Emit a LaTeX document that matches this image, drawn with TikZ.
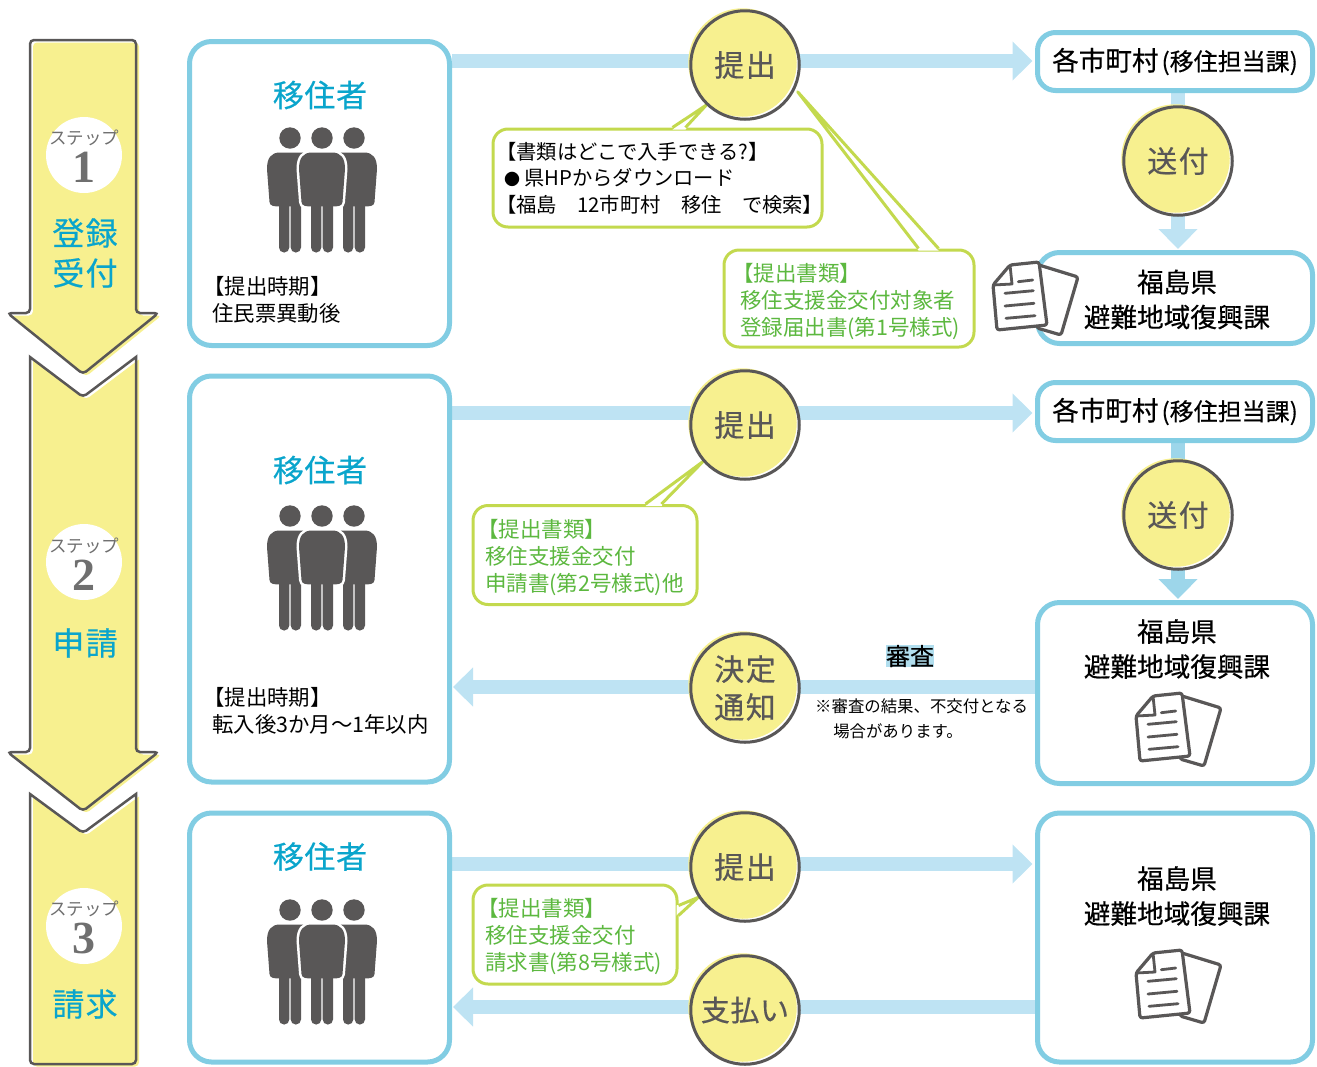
\documentclass[tikz,border=0pt]{standalone}
\usepackage{fontspec}
\setmainfont{Noto Sans CJK JP}
\newfontfamily\midfont[FakeBold=0.4]{Noto Sans CJK JP}
\newfontfamily\numfont{Liberation Serif}
\usetikzlibrary{calc}
\usetikzlibrary{shadows}
\usetikzlibrary{arrows.meta}
\usetikzlibrary{backgrounds}
\definecolor{boxblue}{HTML}{82CDE3}
\definecolor{bandblue}{HTML}{BEE3F3}
\definecolor{banddark}{HTML}{9DD6EA}
\definecolor{stepyellow}{HTML}{F7F08F}
\definecolor{inkgray}{HTML}{595757}
\definecolor{softgray}{HTML}{6F6F6F}
\definecolor{headblue}{HTML}{0AA5CC}
\definecolor{notegreen}{HTML}{C3D94E}
\definecolor{notetext}{HTML}{5CB83F}
\newcommand{\openmark}{\kern-8pt【}
\tikzset{
  stepshape/.style={draw=inkgray, line width=2.5pt, preaction={fill=stepyellow, transform canvas={shift={(3pt,-2.5pt)}}}},
  badge/.style={fill=white, circle, minimum size=76pt, inner sep=0pt},
  stepword/.style={text=softgray, font=\fontsize{17.5}{20}\selectfont},
  stepnum/.style={text=softgray, font=\numfont\bfseries\fontsize{46}{46}\selectfont},
  stepname/.style={text=headblue, align=center, font=\midfont\fontsize{32}{40}\selectfont\addfontfeature{LetterSpace=4}},
  bluebox/.style={draw=boxblue, fill=white, line width=5pt, rounded corners=22pt, inner sep=0pt},
  heading/.style={text=headblue, font=\midfont\fontsize{31}{36}\selectfont\addfontfeature{LetterSpace=2}},
  when/.style={anchor=west, align=left, inner sep=0pt, font=\fontsize{21.4}{27}\selectfont},
  office/.style={align=center, font=\midfont\fontsize{26.6}{35}\selectfont},
  band/.style={draw=bandblue, line width=14pt, -{Triangle[length=20pt,width=38pt]}, shorten >=5pt},
  act/.style={circle, draw=inkgray, line width=3pt, minimum size=108.5pt, inner sep=0pt, text=inkgray, align=center,
    font=\midfont\fontsize{30}{38}\selectfont\addfontfeature{LetterSpace=5},
    general shadow={shadow xshift=0pt, shadow yshift=0pt, fill=white, opacity=1},
    general shadow={shadow xshift=-2.5pt, shadow yshift=2.5pt, fill=stepyellow, opacity=1}},
  notebox/.style={draw=notegreen, fill=white, line width=3pt, rounded corners=15pt, inner sep=0pt},
  noteword/.style={anchor=west, align=left, inner sep=0pt, text=notetext, font=\fontsize{21.5}{27}\selectfont},
  notetail/.style={draw=notegreen, line width=3pt, line join=round},
  pics/people/.style={code={
    \foreach \px in {-32,32} {
      \fill[inkgray] (\px,0) circle (10.7pt);
      \fill[inkgray, rounded corners=5pt] (\px-11,60) rectangle (\px-.7,114.5);
      \fill[inkgray, rounded corners=5pt] (\px+.7,60) rectangle (\px+11,114.5);
      \fill[inkgray, shift={(\px,0)}] (-10,14.5) .. controls (-19,14.5) and (-23,20) .. (-23,31) -- (-20.5,64) .. controls (-20.3,68.4) and (-15,68.4) .. (-11,68.4) -- (11,68.4) .. controls (15,68.4) and (20.3,68.4) .. (20.5,64) -- (23,31) .. controls (23,20) and (19,14.5) .. (10,14.5) -- cycle;
    }
    \fill[inkgray] (0,0) circle (10.7pt);
    \fill[inkgray, preaction={draw=white, line width=5pt}] (-10,14.5) .. controls (-19,14.5) and (-23,20) .. (-23,31) -- (-20.5,64) .. controls (-20.3,68.4) and (-15,68.4) .. (-11,68.4) -- (11,68.4) .. controls (15,68.4) and (20.3,68.4) .. (20.5,64) -- (23,31) .. controls (23,20) and (19,14.5) .. (10,14.5) -- cycle;
    \fill[inkgray, rounded corners=5pt] (-11,60) rectangle (-.7,114.5);
    \fill[inkgray, rounded corners=5pt] (.7,60) rectangle (11,114.5);
  }},
  pics/papers/.style={code={
    \draw[fill=white, draw=inkgray, line width=3.2pt, line join=round, rounded corners=2.5pt] (47,3) -- (86,15) -- (69,73) -- (45,66) -- cycle;
    \draw[fill=white, draw=inkgray, line width=3.2pt, line join=round, rounded corners=2.5pt] (18,3) -- (47,0) -- (55,63) -- (5,68) -- (1,23) -- cycle;
    \draw[draw=inkgray, line width=2.8pt, line join=round] (18,3) -- (20,22) -- (1,23);
    \draw[draw=inkgray, line width=2.8pt, line cap=round] (26.3,19.7) -- (40.7,18);
    \draw[draw=inkgray, line width=2.8pt, line cap=round] (13,31.3) -- (41.3,28.7);
    \draw[draw=inkgray, line width=2.8pt, line cap=round] (13,44) -- (42,41.3);
    \draw[draw=inkgray, line width=2.8pt, line cap=round] (14,56.3) -- (43,53.7);
  }}
}
\begin{document}
\begin{tikzpicture}[x=1pt, y=-1pt]
\useasboundingbox (0,0) rectangle (1317,1066);

\path[stepshape, rounded corners=4pt] (30,40) -- (136,40) -- (136,313) -- (158.5,313) -- (83,374) -- (7.5,313) -- (30,313) -- cycle;
\path[stepshape] (30,357) [rounded corners=4pt] -- (83,397) [sharp corners] -- (136,357) [rounded corners=4pt] -- (136,752) -- (158.5,752) -- (83,811) -- (7.5,752) -- (30,752) [sharp corners] -- cycle;
\path[stepshape] (30,794) [rounded corners=4pt] -- (83,833) [sharp corners] -- (136,794) [rounded corners=4pt] -- (136,1064) -- (30,1064) [sharp corners] -- cycle;

\node[badge] (badge1) at (84,155) {};
\node[stepword] (word1) at (84,138) {ステップ};
\node[stepnum] (num1) at (84,167) {1};
\node[stepname] (name1) at (85,253) {登録\\受付};
\node[badge] (badge2) at (84,562) {};
\node[stepword] (word2) at (84,546) {ステップ};
\node[stepnum] (num2) at (84,575) {2};
\node[stepname] (name2) at (85,643) {申請};
\node[badge] (badge3) at (84,926) {};
\node[stepword] (word3) at (84,909) {ステップ};
\node[stepnum] (num3) at (84,938) {3};
\node[stepname] (name3) at (85,1004) {請求};

\node[bluebox, minimum width=260pt, minimum height=304pt] (mover1) at (319.5,193.5) {};
\node[bluebox, minimum width=260pt, minimum height=406pt] (mover2) at (319.5,579) {};
\node[bluebox, minimum width=260pt, minimum height=249pt] (mover3) at (319.5,937.5) {};
\node[bluebox, rounded corners=18pt, minimum width=275pt, minimum height=58pt, office] (city1) at (1175,61.5) {各市町村\kern3pt{\fontsize{24}{30}\selectfont(移住担当課)}};
\node[bluebox, rounded corners=18pt, minimum width=275pt, minimum height=58pt, office] (city2) at (1175,411.5) {各市町村\kern3pt{\fontsize{24}{30}\selectfont(移住担当課)}};
\node[bluebox, minimum width=275pt, minimum height=91pt] (pref1) at (1175,298) {};
\node[bluebox, minimum width=275pt, minimum height=181pt] (pref2) at (1175,693) {};
\node[bluebox, minimum width=275pt, minimum height=249pt] (pref3) at (1175,937.5) {};

\node[heading] (title1) at (320,95) {移住者};
\node[heading] (title2) at (320,470) {移住者};
\node[heading] (title3) at (320,856.5) {移住者};
\pic (crowd1) at (322,138) {people};
\pic (crowd2) at (322,516) {people};
\pic (crowd3) at (322,910) {people};
\node[when] (when1) at (212,300) {\kern-9pt【提出時期】\\住民票異動後};
\node[when] (when2) at (212,711) {\kern-9pt【提出時期】\\転入後3か月～1年以内};
\node[office] (office1) at (1177,299.5) {福島県\\避難地域復興課};
\node[office] (office2) at (1177,649) {福島県\\避難地域復興課};
\node[office] (office3) at (1177,896) {福島県\\避難地域復興課};
\pic (sheet1) at (992,262) {papers};
\pic (sheet2) at (1135,693) {papers};
\pic (sheet3) at (1135,950) {papers};

\node[fill=banddark!80, inner sep=0pt, font=\midfont\fontsize{24}{28}\selectfont] (review) at (910,656) {審査};
\node[anchor=west, align=left, inner sep=0pt, font=\fontsize{16.4}{24.5}\selectfont] (caution) at (815,719) {※審査の結果、不交付となる\\\hspace*{1.1em}場合があります。};

\node[act] (submit1) at (745,65) {提出};
\node[act] (send1) at (1178,161) {送付};
\node[act] (submit2) at (745,425) {提出};
\node[act] (send2) at (1178,515) {送付};
\node[act] (notify) at (745,688) {決定\\通知};
\node[act] (submit3) at (745,867) {提出};
\node[act, font=\midfont\fontsize{29}{38}\selectfont\addfontfeature{LetterSpace=2}] (pay) at (745,1010) {支払い};

\coordinate (in1) at (1037.5,61);
\coordinate (in2) at (1037.5,413);
\coordinate (in3) at (1037.5,864);
\coordinate (back2) at (1037.5,687);
\coordinate (back3) at (1037.5,1007);

\begin{pgfonlayer}{background}
\draw[band] (mover1.east |- in1) -- (in1);
\draw[band] (mover2.east |- in2) -- (in2);
\draw[band] (mover3.east |- in3) -- (in3);
\draw[band, shorten >=1pt] (back2) -- (mover2.east |- back2);
\draw[band, shorten >=1pt] (back3) -- (mover3.east |- back3);
\draw[band, shorten >=1pt] (send1.north |- city1.south) -- (send1.north |- pref1.north);
\draw[band, draw=banddark, shorten >=1pt] (send2.north |- city2.south) -- (send2.north |- pref2.north);

\node[notebox, minimum width=329pt, minimum height=98pt] (noteA) at (657.5,178) {};
\fill[white] ($(noteA.north west)+(181,2)$) -- (submit1.226) -- ($(noteA.north west)+(194,2)$) -- cycle;
\draw[notetail] ($(noteA.north west)+(181,0)$) -- (submit1.226) -- ($(noteA.north west)+(194,0)$);
\node[noteword, text=black, font=\fontsize{20.3}{26.7}\selectfont] (wordsA) at ($(noteA.west)+(12.5,0)$) {\openmark 書類はどこで入手できる?】\\{\fontsize{16}{26.7}\selectfont ●}\kern4pt県HPからダウンロード\\\openmark 福島　12市町村　移住　で検索】};

\node[notebox, minimum width=250pt, minimum height=97pt] (noteB) at (849,298.5) {};
\fill[white] ($(noteB.north west)+(196,2)$) -- ($(submit1.333)+(3,1.5)$) -- ($(noteB.north west)+(216,2)$) -- cycle;
\draw[notetail] ($(noteB.north west)+(196,0)$) -- ($(submit1.333)+(3,1.5)$) -- ($(noteB.north west)+(216,0)$);
\node[noteword] (wordsB) at ($(noteB.west)+(17.5,3)$) {\openmark 提出書類】\\移住支援金交付対象者\\登録届出書(第1号様式)};

\node[notebox, minimum width=224pt, minimum height=99pt] (noteC) at (585,555) {};
\fill[white] ($(noteC.north west)+(174,2)$) -- (submit2.221) -- ($(noteC.north west)+(190,2)$) -- cycle;
\draw[notetail] ($(noteC.north west)+(174,0)$) -- (submit2.221) -- ($(noteC.north west)+(190,0)$);
\node[noteword] (wordsC) at ($(noteC.west)+(13.5,2.5)$) {\openmark 提出書類】\\移住支援金交付\\申請書(第2号様式)他};

\node[notebox, minimum width=204pt, minimum height=99pt] (noteD) at (575,934.5) {};
\fill[white] ($(noteD.north east)+(-2,22)$) -- (submit3.213) -- ($(noteD.north east)+(-2,32)$) -- cycle;
\draw[notetail] ($(noteD.north east)+(0,22)$) -- (submit3.213) -- ($(noteD.north east)+(0,32)$);
\node[noteword] (wordsD) at ($(noteD.west)+(13.5,2)$) {\openmark 提出書類】\\移住支援金交付\\請求書(第8号様式)};
\end{pgfonlayer}
\end{tikzpicture}
\end{document}
